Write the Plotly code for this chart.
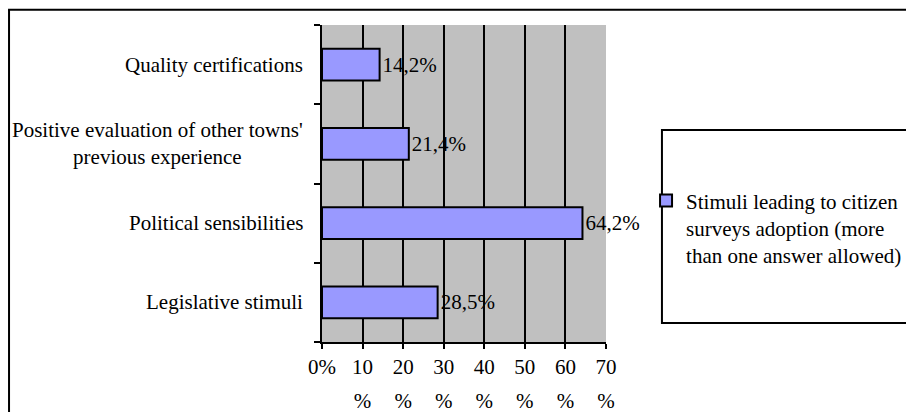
import plotly.graph_objects as go

# data (bottom to top, as plotly stacks categories upward)
categories = ["Legislative stimuli", "Political sensibilities",
              "Positive evaluation of other towns'<br>previous experience",
              "Quality certifications"]
values = [28.5, 64.2, 21.4, 14.2]
value_labels = ["28,5%", "64,2%", "21,4%", "14,2%"]
x_ticks = [0, 10, 20, 30, 40, 50, 60, 70]
# Excel wrapped the tick labels: number on one line, "%" far below
x_tick_top = ["0%", "10", "20", "30", "40", "50", "60", "70"]
x_tick_bottom = ["", "%", "%", "%", "%", "%", "%", "%"]
series_name = "Stimuli leading to citizen<br>surveys adoption (more<br>than one answer allowed)"

FONT = "Liberation Serif"

fig = go.Figure()
fig.add_trace(go.Bar(
    y=categories, x=values, orientation="h",
    name=series_name,
    marker=dict(color="#9999FF", line=dict(color="black", width=2)),
    width=0.4,
    text=value_labels, textposition="outside", cliponaxis=False,
    textfont=dict(family=FONT, size=21, color="black"),
    showlegend=True,
))
# empty trace so the second x axis (the "%" row) gets drawn
fig.add_trace(go.Scatter(x=[None], y=[None], xaxis="x2", showlegend=False,
                         hoverinfo="skip"))

# category labels as annotations so the two-line one can be centred
for c in categories:
    fig.add_annotation(x=-0.06, xref="paper", y=c, yref="y", text=c,
                       showarrow=False, xanchor="right", align="center",
                       font=dict(family=FONT, size=21, color="black"))

fig.update_layout(
    width=906, height=404,
    margin=dict(l=314, r=308, t=17, b=70, autoexpand=False),
    paper_bgcolor="white", plot_bgcolor="#C0C0C0",
    font=dict(family=FONT, size=21, color="black"),
    xaxis=dict(range=[0, 70], tickvals=x_ticks, ticktext=x_tick_top,
               showgrid=True, gridcolor="black", gridwidth=1.5,
               showline=True, linecolor="black", linewidth=2,
               ticks="outside", ticklen=5, tickcolor="black", tickwidth=2,
               zeroline=False, fixedrange=True, automargin=False),
    xaxis2=dict(overlaying="x", anchor="y", side="bottom", range=[0, 70],
                tickvals=x_ticks, ticktext=x_tick_bottom,
                showgrid=False, showline=False, ticks="", zeroline=False,
                ticklabelstandoff=44, fixedrange=True, automargin=False),
    yaxis=dict(categoryorder="array", categoryarray=categories,
               showticklabels=False, tickson="boundaries",
               ticks="outside", ticklen=6, tickcolor="black", tickwidth=2,
               showline=True, linecolor="black", linewidth=2,
               showgrid=False, fixedrange=True, automargin=False),
    legend=dict(x=1.141, y=0.36, xanchor="left", yanchor="middle", valign="top",
                bgcolor="rgba(0,0,0,0)", borderwidth=0,
                font=dict(family=FONT, size=21, color="black"),
                itemwidth=30, tracegroupgap=0),
    bargap=0.6,
    shapes=[
        # outer chart frame
        dict(type="rect", xref="paper", yref="paper",
             x0=-1.102, x1=2.2, y0=-0.4, y1=1.048,
             line=dict(color="black", width=2), fillcolor="rgba(0,0,0,0)", layer="below"),
        # legend frame
        dict(type="rect", xref="paper", yref="paper",
             x0=1.197, x1=2.2, y0=0.060, y1=0.669,
             line=dict(color="black", width=2), fillcolor="rgba(0,0,0,0)"),
    ],
)

fig.write_html("out.html")
